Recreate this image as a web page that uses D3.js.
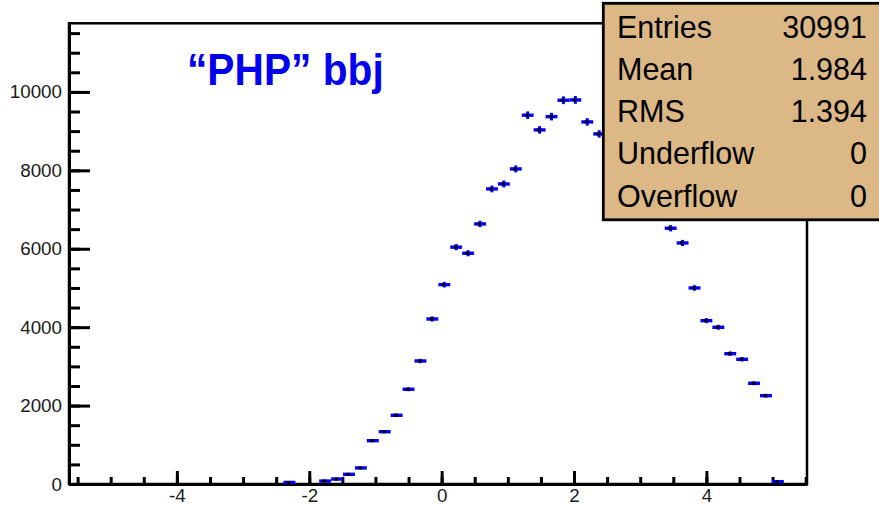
<!DOCTYPE html>
<html>
<head>
<meta charset="utf-8">
<script src="https://cdn.jsdelivr.net/npm/d3@7"></script>
<style>
  html, body { margin: 0; padding: 0; background: #fff; }
  svg { display: block; }
  text { font-family: "Liberation Sans", Arial, Helvetica, sans-serif; }
</style>
</head>
<body>
<svg id="chart" width="879" height="505"></svg>
<script>
// Histogram binning: first bin lower edge and bin width
const firstEdge = -2.39;
const binWidth = 0.18;
// Bin contents, left to right
const counts = [40, 0, 0, 75, 127, 247, 410, 1105, 1334, 1753, 2416, 3138, 4209, 5084,
  6041, 5885, 6633, 7526, 7653, 8036, 9406, 9031, 9370, 9788, 9796, 9235, 8929,
  8650, 8300, 7850, 7450, 7050, 6523, 6148, 5000, 4166, 3997, 3324, 3181, 2569, 2253, 60];

// Axis ranges and ticks
const xDomain = [-5.63, 5.52];
const yDomain = [0, 11750];
const xMajorTicks = [-4, -2, 0, 2, 4];
const xMinorTicks = d3.range(-5.5, 5.51, 0.5);
const yMajorTicks = [0, 2000, 4000, 6000, 8000, 10000];
const yMinorTicks = d3.range(0, 11501, 500);

// Statistics box rows
const statLabels = ["Entries", "Mean", "RMS", "Underflow", "Overflow"];
const statValues = ["30991", "1.984", "1.394", "0", "0"];

const sampleLabel = "\u201cPHP\u201d bbj";

const svg = d3.select("#chart");
const frameLeft = 69, frameRight = 807, frameTop = 23.3, frameBottom = 484;

const x = d3.scaleLinear().domain(xDomain).range([frameLeft, frameRight]);
const y = d3.scaleLinear().domain(yDomain).range([frameBottom, frameTop]);

// Frame
svg.append("rect")
  .attr("x", frameLeft).attr("y", frameTop)
  .attr("width", frameRight - frameLeft).attr("height", frameBottom - frameTop)
  .attr("fill", "none").attr("stroke", "#000").attr("stroke-width", 2.5);

// Y axis: minor then major ticks, pointing into the frame
svg.append("g").attr("transform", `translate(${frameLeft},0)`)
  .call(d3.axisLeft(y).tickValues(yMinorTicks).tickSize(-11).tickSizeOuter(0).tickFormat(""))
  .call(g => g.select(".domain").remove())
  .call(g => g.selectAll("line").attr("stroke", "#000").attr("stroke-width", 3));

svg.append("g").attr("transform", `translate(${frameLeft},0)`)
  .call(d3.axisLeft(y).tickValues(yMajorTicks).tickSize(-21).tickSizeOuter(0).tickPadding(7)
        .tickFormat(d3.format("d")))
  .call(g => g.select(".domain").attr("stroke", "#000").attr("stroke-width", 3))
  .call(g => g.selectAll("line").attr("stroke", "#000").attr("stroke-width", 3))
  .call(g => g.selectAll("text").attr("font-size", 18.8).attr("fill", "#1a1a1a")
        .attr("font-family", "'Liberation Sans', Arial, sans-serif"));

// X axis
svg.append("g").attr("transform", `translate(0,${frameBottom})`)
  .call(d3.axisBottom(x).tickValues(xMinorTicks).tickSize(-7).tickSizeOuter(0).tickFormat(""))
  .call(g => g.select(".domain").remove())
  .call(g => g.selectAll("line").attr("stroke", "#000").attr("stroke-width", 3));

svg.append("g").attr("transform", `translate(0,${frameBottom})`)
  .call(d3.axisBottom(x).tickValues(xMajorTicks).tickSize(-13).tickSizeOuter(0).tickPadding(4.3)
        .tickFormat(d => d < 0 ? "-" + Math.abs(d) : String(d)))
  .call(g => g.select(".domain").attr("stroke", "#000").attr("stroke-width", 3))
  .call(g => g.selectAll("line").attr("stroke", "#000").attr("stroke-width", 3))
  .call(g => g.selectAll("text").attr("font-size", 18.8).attr("fill", "#1a1a1a")
        .attr("font-family", "'Liberation Sans', Arial, sans-serif"));

// Histogram points with bin-width and sqrt(N) error bars
const bins = counts.map((c, i) => ({
  lo: firstEdge + i * binWidth,
  hi: firstEdge + (i + 1) * binWidth,
  c: c
})).filter(b => b.c > 0);

const pts = svg.append("g");
pts.selectAll("line.h").data(bins).join("line")
  .attr("class", "h")
  .attr("x1", d => x(d.lo)).attr("x2", d => x(d.hi))
  .attr("y1", d => y(d.c)).attr("y2", d => y(d.c))
  .attr("stroke", "#0000ff").attr("stroke-width", 3.4);
pts.selectAll("line.v").data(bins).join("line")
  .attr("class", "v")
  .attr("x1", d => x((d.lo + d.hi) / 2)).attr("x2", d => x((d.lo + d.hi) / 2))
  .attr("y1", d => y(d.c - Math.sqrt(d.c))).attr("y2", d => y(d.c + Math.sqrt(d.c)))
  .attr("stroke", "#0000ff").attr("stroke-width", 3);
pts.selectAll("rect").data(bins).join("rect")
  .attr("x", d => x((d.lo + d.hi) / 2) - 2.5)
  .attr("y", d => y(d.c) - 1.5)
  .attr("width", 3.5).attr("height", 3)
  .attr("fill", "#000");

// Sample label, slightly condensed
svg.append("text")
  .attr("transform", "translate(187,85) scale(0.925,1)")
  .attr("font-family", "Lato, 'Open Sans', sans-serif")
  .attr("font-weight", "bold")
  .attr("font-size", 44)
  .attr("fill", "#0000ee")
  .text(sampleLabel);

// Statistics box
const box = svg.append("g");
box.append("rect")
  .attr("x", 603.3).attr("y", 3.3)
  .attr("width", 300).attr("height", 216.5)
  .attr("fill", "#dcb887").attr("stroke", "#000").attr("stroke-width", 2.8);

const rowY = [37.5, 79.5, 121.5, 164, 206.5];
box.selectAll("text.lab").data(statLabels).join("text")
  .attr("class", "lab")
  .attr("x", 617).attr("y", (d, i) => rowY[i])
  .attr("font-size", 30.5).attr("fill", "#000")
  .text(d => d);
box.selectAll("text.val").data(statValues).join("text")
  .attr("class", "val")
  .attr("x", 867).attr("y", (d, i) => rowY[i])
  .attr("text-anchor", "end")
  .attr("font-size", 30.5).attr("fill", "#000")
  .text(d => d);
</script>
</body>
</html>
